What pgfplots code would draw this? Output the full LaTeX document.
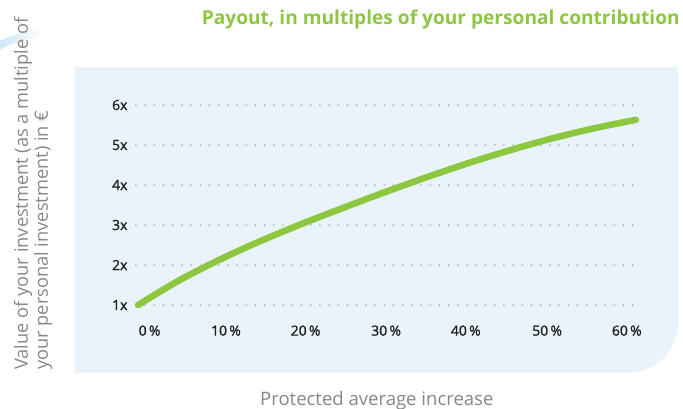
\documentclass[border=0pt]{standalone}
\usepackage{fontspec}
\setmainfont{Open Sans}
\newfontfamily\tkfont[FakeBold=1.2]{Open Sans}
\usepackage{pgfplots}
\pgfplotsset{compat=1.18}
\usetikzlibrary{fadings}
\definecolor{gr}{RGB}{141,198,63}
\definecolor{panel}{RGB}{232,244,250}
\definecolor{dotc}{RGB}{185,185,192}
\definecolor{lab}{RGB}{135,135,135}
\definecolor{tk}{RGB}{30,30,30}
\definecolor{arcc}{RGB}{200,229,244}
\begin{document}
\begin{tikzpicture}
% decorative arc
\draw[arcc, line width=8bp, path fading=east] (-140bp,259bp) to[bend left=8] (-98bp,272bp);
% panel
\fill[panel] (-63bp,238bp) -- (540bp,238bp) -- (540bp,-18bp) arc[start angle=0,end angle=-90,radius=50bp] -- (-63bp,-68bp) -- cycle;
\begin{axis}[
  at={(0,0)}, anchor=origin,
  scale only axis, width=500bp, height=200bp,
  xmin=-0.25, xmax=60, ymin=1, ymax=6,
  axis line style={draw=none},
  ymajorgrids,
  major grid style={dotc, line width=2.1bp, line cap=round, dash pattern=on 0bp off 9.2bp},
  ytick={1,2,3,4,5,6},
  yticklabels={1x,2x,3x,4x,5x,6x},
  xtick={1.4,10.6,20.2,29.9,39.5,49.3,58.9},
  xticklabels={0\,\%,10\,\%,20\,\%,30\,\%,40\,\%,50\,\%,60\,\%},
  /pgf/number format/assume math mode=true,
  tick style={draw=none},
  yticklabel style={font=\tkfont\fontsize{14}{16}\selectfont, text=tk, xshift=-5bp},
  xticklabel style={font=\tkfont\fontsize{14}{16}\selectfont, text=tk, yshift=-17bp},
  clip=false,
]
\addplot[gr, line width=6.5bp, line cap=round, smooth] coordinates {
(0,1.00) (5,1.62) (10,2.15) (15,2.62) (20,3.05) (25,3.45) (30,3.84)
(35,4.21) (40,4.56) (45,4.88) (50,5.17) (55,5.42) (60,5.63)
};
\end{axis}
% title
\node[anchor=base east, inner sep=0, text=gr, font=\fontsize{19.2}{22}\selectfont\bfseries] at (542bp,280bp) {Payout, in multiples of your personal contribution};
% y label
\node[rotate=90, anchor=base west, inner sep=0, text=lab, font=\fontsize{18.3}{21}\selectfont] at (-110bp,-65bp) {Value of your investment (as a multiple of};
\node[rotate=90, anchor=base west, inner sep=0, text=lab, font=\fontsize{18.3}{21}\selectfont] at (-90bp,-65bp) {your personal investment) in €};
% x label
\node[anchor=base west, inner sep=0, text=lab, font=\fontsize{18.6}{21}\selectfont] at (122bp,-100bp) {Protected average increase};
\pgfresetboundingbox
\path[use as bounding box] (-138bp,-104bp) rectangle (545bp,305bp);
\end{tikzpicture}
\end{document}
